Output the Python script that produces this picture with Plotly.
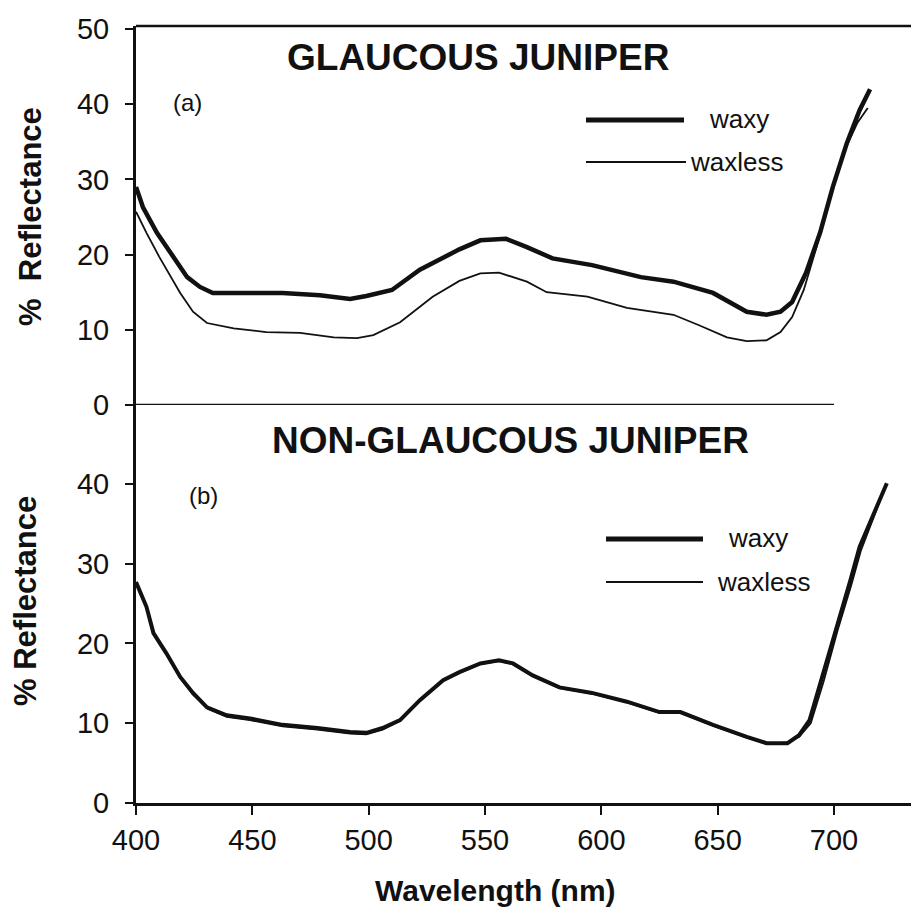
import plotly.graph_objects as go

# ---------------- data ----------------
# (a) GLAUCOUS JUNIPER
wl_a_waxy = [400, 403, 409, 416, 422, 427.5, 433, 448, 463, 479, 492, 499, 510, 522, 539,
             548, 559, 568, 579, 596, 617, 631, 648, 662.5, 671, 677, 682, 688, 694,
             699.5, 705.5, 711, 715.5]
refl_a_waxy = [29.0, 26.3, 22.9, 19.7, 17.0, 15.7, 14.9, 14.9, 14.9, 14.6, 14.1, 14.5, 15.3,
               18.0, 20.7, 21.9, 22.1, 21.0, 19.5, 18.6, 17.0, 16.4, 14.9, 12.4, 12.0, 12.4,
               13.7, 17.6, 22.9, 29.0, 34.8, 39.2, 42.0]

wl_a_waxless = [400, 404.5, 410, 419, 424.5, 430.5, 442, 456, 470.5, 485, 495, 502, 513.5,
                527.5, 539, 548, 556, 568, 576.5, 594, 611, 631, 642, 654, 662.5, 671, 677,
                682, 687, 692.5, 698, 704, 710, 714.5]
refl_a_waxless = [25.7, 22.9, 19.7, 14.9, 12.4, 10.9, 10.2, 9.7, 9.6, 9.0, 8.9, 9.3, 11.0,
                  14.4, 16.5, 17.5, 17.6, 16.4, 15.0, 14.4, 12.9, 12.0, 10.6, 9.0, 8.5, 8.6,
                  9.7, 11.7, 15.3, 21.0, 27.7, 33.5, 37.5, 39.5]

# (b) NON-GLAUCOUS JUNIPER
wl_b_waxy = [400, 404.5, 407.5, 413, 419, 424.5, 430.5, 439, 449, 463, 478, 492, 499, 506,
             513.5, 522, 532, 539, 548, 556, 562, 570.5, 582, 596, 611, 625, 634, 648,
             662.5, 671, 680, 685, 689.5, 695, 701, 707, 711, 717, 722.7]
refl_b_waxy = [27.7, 24.6, 21.3, 18.8, 15.8, 13.8, 12.0, 11.0, 10.6, 9.8, 9.4, 8.9, 8.8, 9.4,
               10.4, 12.9, 15.4, 16.4, 17.5, 17.9, 17.5, 16.0, 14.5, 13.8, 12.7, 11.4, 11.4,
               9.8, 8.3, 7.5, 7.5, 8.5, 10.4, 15.8, 22.1, 27.9, 32.1, 36.3, 40.1]

wl_b_waxless = [400, 404.5, 408, 413, 419, 424.5, 431, 439, 449, 463, 478, 492, 499, 506,
                513.5, 522, 532, 539, 548, 556, 562, 570.5, 582, 596, 611, 625, 634, 648,
                662.5, 671, 680, 685, 690, 695.5, 701.5, 707.5, 711.5, 717, 722]
refl_b_waxless = [27.5, 24.5, 21.0, 18.7, 15.7, 13.6, 11.8, 10.8, 10.4, 9.6, 9.2, 8.7, 8.6,
                  9.2, 10.3, 12.8, 15.3, 16.3, 17.4, 17.8, 17.4, 15.9, 14.4, 13.7, 12.6, 11.3,
                  11.3, 9.7, 8.2, 7.4, 7.6, 8.3, 10.0, 15.2, 21.6, 27.4, 31.6, 35.9, 39.6]

x_ticks = [400, 450, 500, 550, 600, 650, 700]
y_ticks_a = [0, 10, 20, 30, 40, 50]
y_ticks_b = [0, 10, 20, 30, 40]

FONT = "Liberation Sans, Arial, sans-serif"
INK = "#111111"

fig = go.Figure()
fig.add_trace(go.Scatter(x=wl_a_waxless, y=refl_a_waxless, mode="lines", xaxis="x2", yaxis="y2",
                         line=dict(color=INK, width=1.8), showlegend=False))
fig.add_trace(go.Scatter(x=wl_a_waxy, y=refl_a_waxy, mode="lines", xaxis="x2", yaxis="y2",
                         line=dict(color=INK, width=4.5), showlegend=False))
fig.add_trace(go.Scatter(x=wl_b_waxless, y=refl_b_waxless, mode="lines", xaxis="x", yaxis="y",
                         line=dict(color=INK, width=1.8), showlegend=False))
fig.add_trace(go.Scatter(x=wl_b_waxy, y=refl_b_waxy, mode="lines", xaxis="x", yaxis="y",
                         line=dict(color=INK, width=4.0), showlegend=False))

split = 398 / 777
xr = [400, 400 + 783 / 2.3267]

# the html page body has an 8px margin: figure is shifted by 8px in the window
fig.update_layout(
    width=911, height=902,
    margin=dict(l=128, r=0, t=18, b=107),
    paper_bgcolor="white", plot_bgcolor="white",
    font=dict(family=FONT, color=INK),
    xaxis=dict(domain=[0, 1], range=xr, anchor="y", tickvals=x_ticks,
               ticks="outside", ticklen=9, tickwidth=2, tickcolor=INK,
               showline=True, linewidth=2.5, linecolor=INK, showgrid=False, zeroline=False,
               tickfont=dict(size=29, family=FONT, color=INK)),
    xaxis2=dict(domain=[0, 1], range=xr, anchor="y2", matches="x", visible=False),
    yaxis=dict(domain=[0, split], range=[0, 49.9], anchor="x", tickvals=y_ticks_b,
               ticks="outside", ticklen=8, tickwidth=2, tickcolor=INK,
               showline=True, linewidth=3, linecolor=INK, showgrid=False, zeroline=False,
               ticklabelstandoff=10, tickfont=dict(size=29, family=FONT, color=INK)),
    yaxis2=dict(domain=[split, 1], range=[0, 50.4], anchor="x2", tickvals=y_ticks_a,
                ticks="outside", ticklen=8, tickwidth=2, tickcolor=INK,
                showline=True, linewidth=3, linecolor=INK, showgrid=False, zeroline=False,
                ticklabelstandoff=10, tickfont=dict(size=29, family=FONT, color=INK)),
)

def px_x(p):
    return (p - 136) / 783

def px_y(p):
    return (803 - p) / 777

shapes = [
    # top frame line
    dict(type="line", xref="paper", yref="paper", x0=0, x1=1, y0=1, y1=1,
         line=dict(color=INK, width=2.5)),
    # baseline of panel (a)
    dict(type="line", xref="x2", yref="y2", x0=400, x1=700, y0=0, y1=0,
         line=dict(color=INK, width=2.5)),
    # legend keys (a)
    dict(type="line", xref="paper", yref="paper", x0=px_x(586), x1=px_x(684),
         y0=px_y(120), y1=px_y(120), line=dict(color=INK, width=5)),
    dict(type="line", xref="paper", yref="paper", x0=px_x(586), x1=px_x(686),
         y0=px_y(162), y1=px_y(162), line=dict(color=INK, width=1.8)),
    # legend keys (b)
    dict(type="line", xref="paper", yref="paper", x0=px_x(606), x1=px_x(703),
         y0=px_y(539), y1=px_y(539), line=dict(color=INK, width=5)),
    dict(type="line", xref="paper", yref="paper", x0=px_x(606), x1=px_x(703),
         y0=px_y(582), y1=px_y(582), line=dict(color=INK, width=1.8)),
]
fig.update_layout(shapes=shapes)

def ann(text, x, y, size, bold=False, xanchor="center", angle=0):
    t = f"<b>{text}</b>" if bold else text
    return dict(text=t, x=px_x(x), y=px_y(y), xref="paper", yref="paper",
                xanchor=xanchor, yanchor="middle", showarrow=False, textangle=angle,
                font=dict(family=FONT, size=size, color=INK))

annotations = [
    ann("GLAUCOUS JUNIPER", 477.5, 58, 37, bold=True),
    ann("NON-GLAUCOUS JUNIPER", 510, 440, 37, bold=True),
    ann("(a)", 187, 103, 24),
    ann("(b)", 203, 495, 24),
    ann("waxy", 707, 119, 26, xanchor="left"),
    ann("waxless", 688, 162, 26, xanchor="left"),
    ann("waxy", 726, 538, 26, xanchor="left"),
    ann("waxless", 715, 582, 26, xanchor="left"),
    ann("%  Reflectance", 30, 216, 31, bold=True, angle=-90),
    ann("% Reflectance", 25, 601, 31, bold=True, angle=-90),
    ann("Wavelength (nm)", 495, 890, 30, bold=True),
]
fig.update_layout(annotations=annotations)

fig.write_html("out.html")
